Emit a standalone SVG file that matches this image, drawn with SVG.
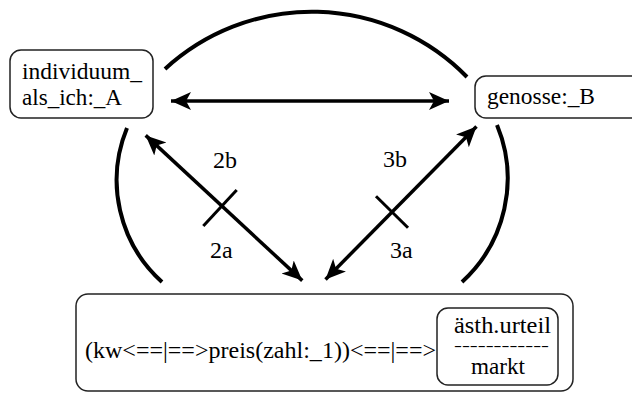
<svg xmlns="http://www.w3.org/2000/svg" width="632" height="394" viewBox="0 0 632 394">
<style>
.box{fill:#fff;stroke:#222;stroke-width:1.5}
.t{font-size:24px;fill:#000}
.d{font-size:14px}
.arc{fill:none;stroke:#000;stroke-width:4}
.arr{fill:none;stroke:#000;stroke-width:3.5;marker-start:url(#ah);marker-end:url(#ah)}
.x{stroke:#000;stroke-width:3}
</style>
<defs>
<marker id="ah" viewBox="0 0 20 20" refX="20" refY="10" markerWidth="20" markerHeight="20" markerUnits="userSpaceOnUse" orient="auto-start-reverse">
<path d="M0,1 L20,10 L0,19 L5,10 z" fill="#000"/>
</marker>
</defs>
<g font-family="Liberation Serif, DejaVu Serif, serif">
<g id="connectors">
<path class="arc" d="M165,69 A217,217 0 0 1 467,77"/>
<path class="arc" d="M127,128 A137,137 0 0 0 162,282"/>
<path class="arc" d="M497,125 A140,140 0 0 1 462,282"/>
<line class="arr" x1="171" y1="101" x2="449" y2="101"/>
<line class="arr" x1="145.7" y1="135.4" x2="302.3" y2="280.6"/>
<line class="arr" x1="476.5" y1="126.6" x2="325.5" y2="279.4"/>
<line class="x" x1="203.3" y1="226" x2="236.7" y2="190"/>
<line class="x" x1="376" y1="196.2" x2="408" y2="227.8"/>
<text class="t" x="213" y="168">2b</text>
<text class="t" x="210" y="258">2a</text>
<text class="t" x="383" y="167">3b</text>
<text class="t" x="390" y="258">3a</text>
</g>
<g id="node-A">
<rect class="box" x="10" y="50" width="143" height="68" rx="11"/>
<text class="t" x="22" y="79" textLength="120" lengthAdjust="spacingAndGlyphs">individuum_</text>
<text class="t" x="22" y="105" textLength="100" lengthAdjust="spacingAndGlyphs">als_ich:_A</text>
</g>
<g id="node-B">
<rect class="box" x="475" y="76" width="170" height="42" rx="11"/>
<text class="t" x="487" y="104" textLength="108" lengthAdjust="spacingAndGlyphs">genosse:_B</text>
</g>
<g id="node-markt">
<rect class="box" x="76" y="294" width="497" height="97" rx="12"/>
<text class="t" x="85" y="358" textLength="351" lengthAdjust="spacingAndGlyphs">(kw&lt;==|==&gt;preis(zahl:_1))&lt;==|==&gt;</text>
<g id="node-urteil">
<rect class="box" x="437" y="308" width="121" height="77" rx="11"/>
<text class="t" x="454" y="333" textLength="97" lengthAdjust="spacingAndGlyphs">ästh.urteil</text>
<text class="t d" x="454" y="350" textLength="95" lengthAdjust="spacingAndGlyphs">------------</text>
<text class="t" x="471" y="374" textLength="54" lengthAdjust="spacingAndGlyphs">markt</text>
</g>
</g>
</g>
</svg>
